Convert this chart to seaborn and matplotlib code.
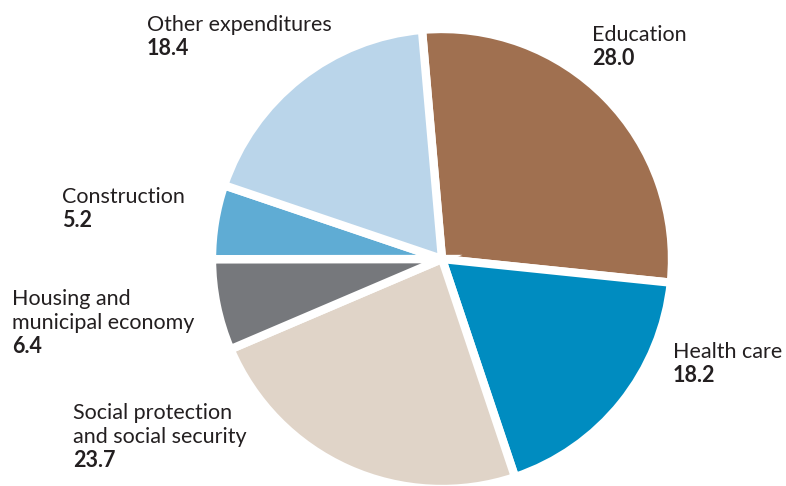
import matplotlib
matplotlib.use("Agg")
import matplotlib.pyplot as plt
import seaborn as sns

sns.set_style("white")
plt.rcParams["font.family"] = ["Lato", "DejaVu Sans"]

# Structure of expenditures, percent
categories = ["Education", "Health care", "Social protection\nand social security",
              "Housing and\nmunicipal economy", "Construction", "Other expenditures"]
shares = [28.0, 18.2, 23.7, 6.4, 5.2, 18.4]
colors = ["#A07050", "#008CC0", "#E0D4C8", "#76787C", "#5FACD4", "#BAD5EA"]

# Label anchor: left edge and first baseline, in pixels from the top-left corner
label_pos = [(592, 41), (673, 358), (73, 419), (12, 305), (62, 203), (147, 31)]
line_step = 24

W, H = 786, 486
fig = plt.figure(figsize=(W / 100, H / 100), dpi=100)
cx, cy, r = 442, 259, 230
ax = fig.add_axes([(cx - r) / W, (H - cy - r) / H, 2 * r / W, 2 * r / H])
ax.pie(shares, colors=colors, startangle=95, counterclock=False, radius=1,
       wedgeprops=dict(edgecolor="white", linewidth=6, joinstyle="miter"))
ax.set_xlim(-1, 1)
ax.set_ylim(-1, 1)
ax.set_aspect("equal")
ax.axis("off")

text_color = "#231F20"
fs = 15.5
for name, val, (x, y) in zip(categories, shares, label_pos):
    lines = name.split("\n")
    for i, ln in enumerate(lines):
        fig.text(x / W, 1 - (y + i * line_step) / H, ln, fontsize=fs,
                 color=text_color, ha="left", va="baseline")
    fig.text(x / W, 1 - (y + len(lines) * line_step) / H, f"{val:.1f}",
             fontsize=fs, fontweight="bold", color=text_color,
             ha="left", va="baseline")

fig.savefig("out.png", dpi=100)
